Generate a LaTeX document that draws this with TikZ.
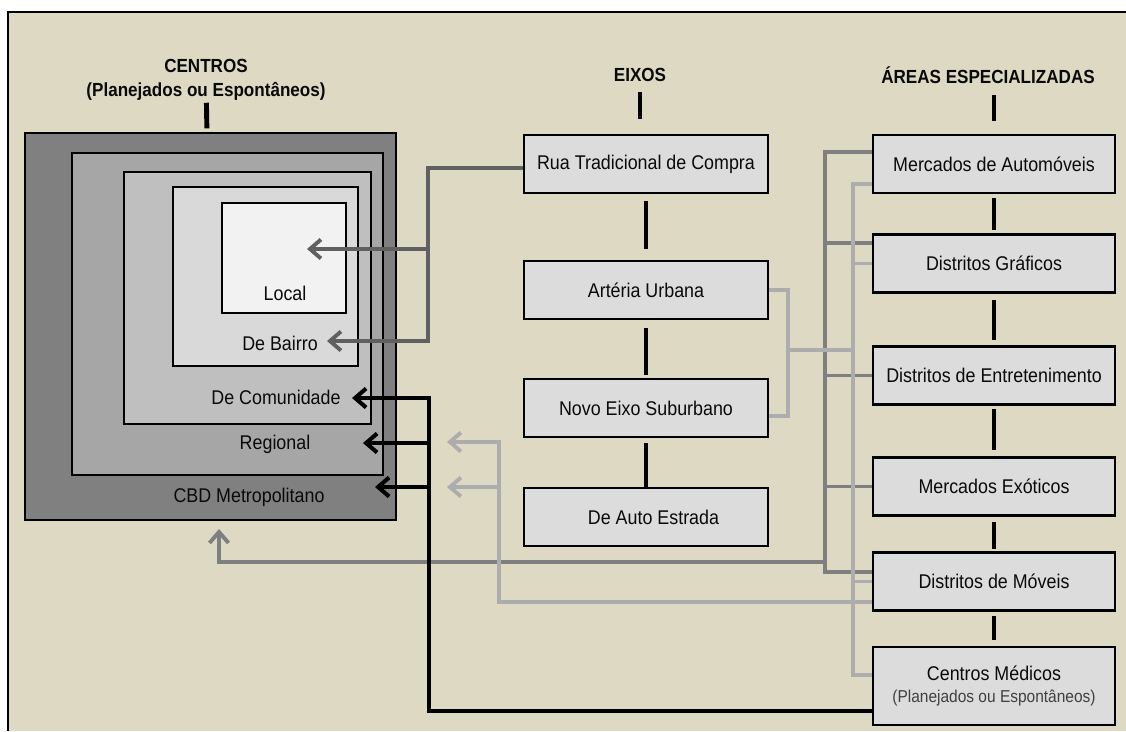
\documentclass[tikz,border=0pt]{standalone}
\usepackage{fontspec}
\setmainfont{Liberation Sans}[FakeStretch=0.9]
\usepackage{tikz}
\usetikzlibrary{arrows.meta,positioning,calc}
\definecolor{tanbg}{HTML}{DDD9C3}
\definecolor{cardgray}{HTML}{DCDCDC}
\definecolor{cbdgray}{HTML}{808080}
\definecolor{reggray}{HTML}{A6A6A6}
\definecolor{comgray}{HTML}{BFBFBF}
\definecolor{baigray}{HTML}{D9D9D9}
\definecolor{locgray}{HTML}{F2F2F2}
\definecolor{linkdark}{HTML}{606060}
\definecolor{linkmid}{HTML}{7F7F7F}
\definecolor{linklight}{HTML}{ADADAD}
\definecolor{ink}{HTML}{0A0A0A}
\newcommand\cardfont{\fontsize{11.3}{13}\selectfont}
\newcommand\headfont{\fontsize{10.8}{13.6}\selectfont\bfseries}
\newcommand\notefont{\fontsize{9.8}{12}\selectfont}
\tikzset{
  ring/.style={draw=black,line width=1.3pt,inner sep=0pt},
  ringtext/.style={font=\cardfont,text=ink,inner sep=1pt},
  card/.style={draw=black,fill=cardgray,line width=1.3pt,inner sep=0pt,
               minimum height=1.16cm,font=\cardfont,text=ink,align=center},
  eixo/.style={card,minimum width=4.88cm},
  area/.style={card,minimum width=4.84cm},
  head/.style={font=\headfont,text=ink,align=center},
  stem/.style={line width=2.8pt,draw=black},
  darklink/.style={line width=2.2pt,draw=linkdark},
  midlink/.style={line width=2.2pt,draw=linkmid},
  lightlink/.style={line width=2.2pt,draw=linklight},
  blacklink/.style={line width=2.3pt,draw=black},
  barb/.style={-{Straight Barb[length=2.2mm,width=3.8mm]}}
}
\begin{document}
\begin{tikzpicture}[x=0.02cm,y=-0.02cm]
  \path[use as bounding box] (0,0) rectangle (1126,731);
  \fill[white] (0,0) rectangle (1126,731);
  \fill[tanbg] (8,12) rectangle (1126,731);
  \draw[line width=1.2pt] (8,731) -- (8,12) -- (1126,12);

  % centros
  \node[ring,fill=cbdgray,minimum width=7.42cm,minimum height=7.74cm] (cbd) at (210.5,326.5) {};
  \node[ring,fill=reggray,minimum width=6.22cm,minimum height=6.44cm] (reg) at (227.5,314) {};
  \node[ring,fill=comgray,minimum width=4.94cm,minimum height=5.04cm] (com) at (247.5,298) {};
  \node[ring,fill=baigray,minimum width=3.70cm,minimum height=3.58cm] (bai) at (265.5,276.5) {};
  \node[ring,fill=locgray,minimum width=2.48cm,minimum height=2.20cm] (loc) at (284,258) {};
  \node[ringtext] (tloc) at (285,293) {Local};
  \node[ringtext] (tbai) at (280,343) {De Bairro};
  \node[ringtext] (tcom) at (276,397) {De Comunidade};
  \node[ringtext] (treg) at (275,444) {Regional};
  \node[ringtext] (tcbd) at (249,497) {CBD Metropolitano};
  \node[head] (hcen) at (206,80) {CENTROS\\(Planejados ou Espontâneos)};
  \draw[stem,shorten <=-0.08cm,shorten >=2pt] (hcen) -- (cbd);

  % eixos
  \node[head] (heix) at (640,75) {EIXOS};
  \node[eixo] (rua) at (646,164) {Rua Tradicional de Compra};
  \node[eixo] (art) at (646,290) {Artéria Urbana};
  \node[eixo] (nov) at (646,408) {Novo Eixo Suburbano};
  \node[eixo] (aut) at (646,517) {\hspace{0.3cm}De Auto Estrada};
  \draw[stem,shorten <=0.08cm,shorten >=0.3cm] (heix) -- (heix |- rua.north);
  \draw[stem,shorten <=0.14cm,shorten >=0.22cm] (rua) -- (art);
  \draw[stem,shorten <=0.16cm,shorten >=0.06cm] (art) -- (nov);
  \draw[stem,shorten <=0.1cm] (nov) -- (aut);

  % areas especializadas
  \node[head] (hare) at (988,75) {ÁREAS ESPECIALIZADAS};
  \node[area] (mau) at (994,164) {Mercados de Automóveis};
  \node[area] (gra) at (994,263.5) {Distritos Gráficos};
  \node[area] (ent) at (994,375.5) {Distritos de Entretenimento};
  \node[area] (exo) at (994,486.5) {Mercados Exóticos};
  \node[area] (mov) at (994,581.5) {Distritos de Móveis};
  \node[area,minimum height=1.56cm] (med) at (994,686)
    {Centros Médicos\\[-1pt]{\notefont\color{black!75}(Planejados ou Espontâneos)}};
  \draw[stem,shorten <=0.1cm,shorten >=0.26cm] (hare.south -| mau.north) -- (mau);
  \draw[stem,shorten <=0.08cm,shorten >=0.06cm] (mau) -- (gra);
  \draw[stem,shorten <=0.12cm,shorten >=0.1cm] (gra) -- (ent);
  \draw[stem,shorten <=0.06cm,shorten >=0.12cm] (ent) -- (exo);
  \draw[stem,shorten <=0.1cm,shorten >=0.04cm] (exo) -- (mov);
  \draw[stem,shorten <=0.08cm,shorten >=0.12cm] (mov) -- (med);

  % buses
  \coordinate (dtop) at (825,152);
  \coordinate (dmov) at (825,562);
  \coordinate (ltop) at (853,184);
  \coordinate (ljoin) at (853,350);
  \draw[midlink] ([yshift=0.24cm]mau.west) -- (dtop) |- ([yshift=0.19cm]mov.west);
  \draw[midlink] ([yshift=0.41cm]gra.west) -- ++(-0.96cm,0);
  \draw[midlink] (ent.west) -- ++(-0.96cm,0);
  \draw[midlink] (exo.west) -- ++(-0.96cm,0);
  \draw[lightlink] ([yshift=-0.4cm]mau.west) -- (ltop) |- ([yshift=0.22cm]med.west);
  \draw[lightlink] (gra.west) -- ++(-0.4cm,0);
  \draw[lightlink] (mov.west) -- ++(-0.4cm,0);
  \draw[lightlink] (art.east) -| (788,350) |- ([yshift=-0.16cm]nov.east);
  \draw[lightlink] (788,350) -- (ljoin);

  % arrows into centros
  \coordinate (aloc) at (307,249);
  \coordinate (abai) at (327,341);
  \coordinate (acom) at (352,398);
  \coordinate (areg) at (363,443);
  \coordinate (acbd) at (375,487);
  \coordinate (bcbd) at (219,529);
  \draw[darklink,barb] ([yshift=-0.08cm]rua.west) -| (428,341) -- (abai);
  \draw[darklink,barb] (428,249) -- (aloc);
  \draw[midlink,barb] (dmov) -| (bcbd);
  \draw[lightlink,barb] ([yshift=-0.41cm]mov.west) -| (499,442) -- (447,442);
  \draw[lightlink,barb] (499,487) -- (447,487);
  \draw[blacklink,barb] ([yshift=-0.5cm]med.west) -| (429,398) -- (acom);
  \draw[blacklink,barb] (429,443) -- (areg);
  \draw[blacklink,barb] (429,487) -- (acbd);
\end{tikzpicture}
\end{document}
